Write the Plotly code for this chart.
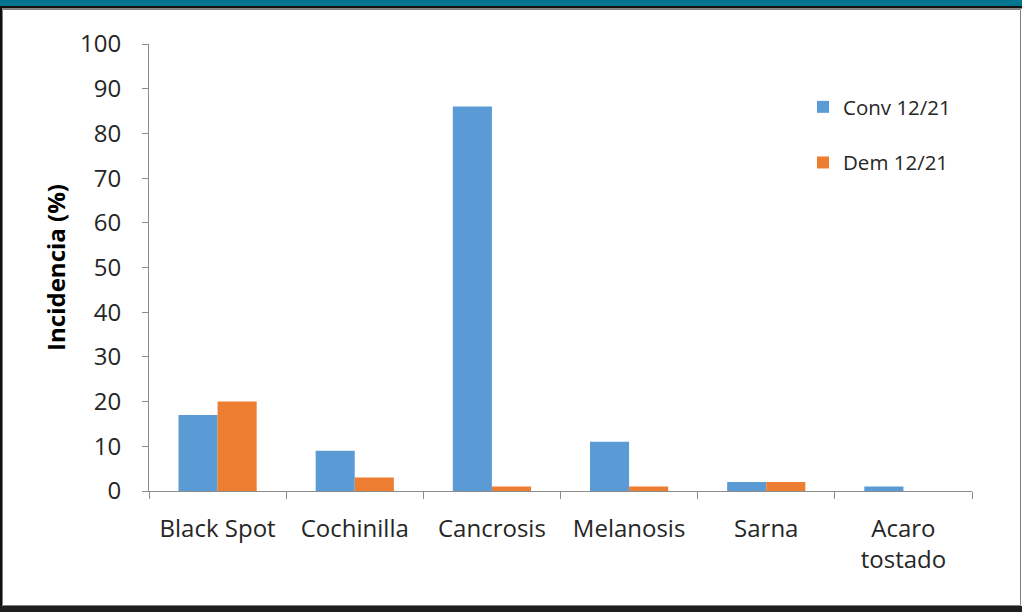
import plotly.graph_objects as go

# Disease incidence by category, two sampling groups
categories = ["Black Spot", "Cochinilla", "Cancrosis", "Melanosis", "Sarna", "Acaro<br>tostado"]
conv_12_21 = [17, 9, 86, 11, 2, 1]
dem_12_21 = [20, 3, 1, 1, 2, 0]
y_ticks = [0, 10, 20, 30, 40, 50, 60, 70, 80, 90, 100]

W, H = 1022, 612
L, R, T, B = 149, 50, 44, 121
pw, ph = W - L - R, H - T - B


def px(x):
    return (x - L) / pw


def py(y):
    return (H - B - y) / ph


FONT = "Open Sans, Calibri, Arial, sans-serif"
TXT = "#262626"
AXIS = "#8c8c8c"

fig = go.Figure()
fig.add_trace(go.Bar(x=categories, y=conv_12_21, name="Conv 12/21",
                     marker=dict(color="#5B9BD5", line=dict(width=0)),
                     legendgroup="a"))
fig.add_trace(go.Bar(x=categories, y=dem_12_21, name="Dem 12/21",
                     marker=dict(color="#ED7D31", line=dict(width=0)),
                     legendgroup="b"))

# Slide-style frame: teal band on top, dark edges and a thin grey border
shapes = [
    dict(type="rect", xref="paper", yref="paper", x0=px(0), x1=px(W), y0=py(0), y1=py(6),
         fillcolor="#00758F", line=dict(width=0), layer="above"),
    dict(type="rect", xref="paper", yref="paper", x0=px(0), x1=px(W), y0=py(6), y1=py(8.5),
         fillcolor="#111111", line=dict(width=0), layer="above"),
    dict(type="rect", xref="paper", yref="paper", x0=px(0), x1=px(2), y0=py(8), y1=py(612),
         fillcolor="#111111", line=dict(width=0), layer="above"),
    dict(type="rect", xref="paper", yref="paper", x0=px(2.5), x1=px(1020.5), y0=py(9.5), y1=py(605.5),
         fillcolor="rgba(0,0,0,0)", line=dict(width=1, color="#7f7f7f"), layer="above"),
    dict(type="rect", xref="paper", yref="paper", x0=px(0), x1=px(W), y0=py(606), y1=py(612),
         fillcolor="#1e1e1e", line=dict(width=0), layer="above"),
]

fig.update_layout(
    width=W, height=H,
    margin=dict(l=L, r=R, t=T, b=B, pad=0),
    paper_bgcolor="white", plot_bgcolor="white",
    barmode="group", bargap=0.43, bargroupgap=0,
    font=dict(family=FONT, color=TXT, size=24),
    shapes=shapes,
    showlegend=True,
    legend=dict(x=px(803), y=py(87), xanchor="left", yanchor="top",
                font=dict(size=20.5, family=FONT, color=TXT),
                tracegroupgap=26, traceorder="grouped",
                bgcolor="rgba(0,0,0,0)", borderwidth=0),
    xaxis=dict(type="category", showline=True, linecolor=AXIS, linewidth=1,
               ticks="outside", tickson="boundaries", ticklen=7, tickcolor=AXIS,
               tickfont=dict(size=24, family=FONT, color=TXT), showgrid=False,
               zeroline=False, ticklabelstandoff=16),
    yaxis=dict(range=[0, 100], tickvals=y_ticks, showline=True, linecolor=AXIS,
               linewidth=1, ticks="outside", ticklen=6, tickcolor=AXIS,
               tickfont=dict(size=24, family=FONT, color=TXT), showgrid=False,
               zeroline=False, ticklabelstandoff=16,
               title=dict(text="<b>Incidencia (%)</b>", font=dict(size=24, family=FONT, color="#000000"),
                          standoff=7)),
)

fig.write_html("out.html")
